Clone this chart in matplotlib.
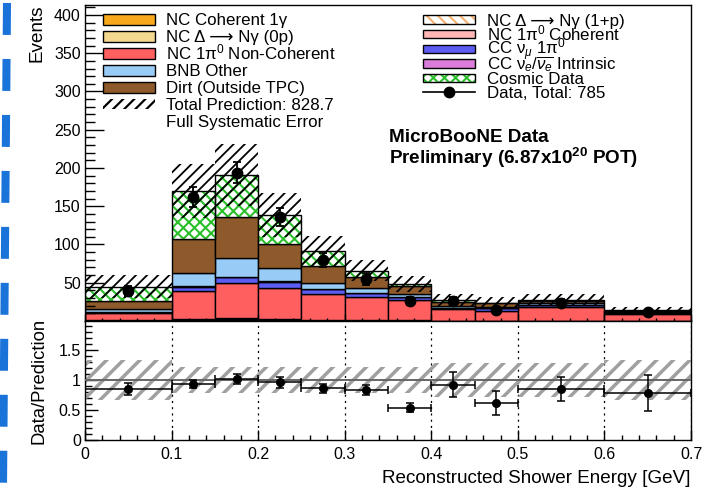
import numpy as np
import matplotlib
matplotlib.use("Agg")
import matplotlib.pyplot as plt
from matplotlib.patches import Rectangle
from matplotlib.lines import Line2D
from matplotlib.ticker import MultipleLocator

plt.rcParams['font.family'] = ['Liberation Sans', 'DejaVu Sans']
plt.rcParams['mathtext.fontset'] = 'custom'
plt.rcParams['mathtext.rm'] = 'Liberation Sans'
plt.rcParams['mathtext.it'] = 'Liberation Sans:italic'
plt.rcParams['mathtext.bf'] = 'Liberation Sans:bold'
plt.rcParams['lines.scale_dashes'] = False

# ---------------- data ----------------
bin_edges = [0.0, 0.1, 0.15, 0.2, 0.25, 0.3, 0.35, 0.4, 0.45, 0.5, 0.6, 0.7]

nc_coh_1g     = [0.1, 0.3, 0.3, 0.2, 0.1, 0.1, 0.1, 0.05, 0.05, 0.05, 0.02]
nc_delta_0p   = [0.3, 0.8, 0.9, 0.7, 0.5, 0.4, 0.3, 0.2, 0.2, 0.2, 0.1]
nc_delta_1p   = [0.3, 0.8, 1.0, 0.8, 0.6, 0.4, 0.3, 0.2, 0.2, 0.2, 0.1]
nc_pi0_coh    = [0.2, 0.5, 1.5, 1.5, 0.6, 0.3, 0.2, 0.1, 0.1, 0.1, 0.05]
nc_pi0_noncoh = [9.9, 37.2, 45.5, 40.3, 33.0, 30.5, 26.5, 15.1, 12.9, 17.3, 8.8]
cc_numu_pi0   = [1.2, 5.2, 7.8, 7.8, 6.6, 4.5, 3.4, 1.5, 3.0, 2.8, 1.5]
cc_nue        = [0.2, 0.5, 0.6, 0.5, 0.4, 0.3, 0.3, 0.2, 0.2, 0.3, 0.1]
bnb_other     = [3.3, 17.7, 24.2, 17.8, 8.2, 6.0, 4.2, 2.4, 1.5, 2.0, 1.5]
dirt          = [11.0, 43.6, 54.2, 30.9, 21.8, 15.0, 11.0, 4.5, 5.0, 3.5, 1.5]
cosmic        = [18.5, 63.4, 55.0, 37.9, 20.0, 8.0, 1.5, 3.5, 1.0, 1.5, 0.5]

data_counts = [39, 162, 194, 136, 80, 55, 26.5, 26, 15, 24, 11.3]
data_err    = [6.2, 12.7, 13.9, 11.7, 8.9, 7.4, 5.1, 5.1, 3.9, 4.9, 3.4]

ratio_vals = [0.85, 0.93, 1.01, 0.96, 0.86, 0.83, 0.54, 0.92, 0.62, 0.85, 0.78]
ratio_err  = [0.10, 0.07, 0.08, 0.09, 0.08, 0.08, 0.07, 0.21, 0.20, 0.20, 0.30]
sys_frac   = [0.33, 0.21, 0.21, 0.21, 0.21, 0.21, 0.22, 0.28, 0.28, 0.28, 0.33]

total_pred_label = "Total Prediction: 828.7"
data_total_label = "Data, Total: 785"

# ---------------- figure ----------------
W, H = 712, 488
fig = plt.figure(figsize=(W / 100, H / 100), dpi=100)

def fx(px):
    return px / W

def fy(py):
    return 1 - py / H

ax = fig.add_axes([fx(85), fy(321), fx(691) - fx(85), fy(5) - fy(321)])
axr = fig.add_axes([fx(85), fy(440), fx(691) - fx(85), fy(321) - fy(440)], sharex=ax)

edges = np.array(bin_edges)
lefts = edges[:-1]
widths = np.diff(edges)
centers = lefts + widths / 2

components = [
    (nc_coh_1g, '#f7a81b', None),
    (nc_delta_0p, '#f5d88f', None),
    (nc_delta_1p, '#f5b070', '\\\\\\'),
    (nc_pi0_coh, '#ffb6b6', None),
    (nc_pi0_noncoh, '#ff5f5f', None),
    (cc_numu_pi0, '#5c5cf3', None),
    (cc_nue, '#dc7ddc', None),
    (bnb_other, '#99cbf7', None),
    (dirt, '#8e5a2b', None),
    (cosmic, '#2bbf2b', 'xxx'),
]

def hatched_bar(axis, x, h, w, bottom, color, hatch, hlw, face='white', z=None):
    kw = dict(width=w, bottom=bottom, align='edge', facecolor=face,
              edgecolor=color, hatch=hatch, linewidth=0)
    if z is not None:
        kw['zorder'] = z
    try:
        axis.bar(x, h, hatch_linewidth=hlw, **kw)
    except Exception:
        plt.rcParams['hatch.linewidth'] = hlw
        axis.bar(x, h, **kw)

cum = np.zeros(len(lefts))
for vals, col, hatch in components:
    v = np.array(vals, dtype=float)
    if hatch is None:
        ax.bar(lefts, v, width=widths, bottom=cum, align='edge', color=col,
               edgecolor='black', linewidth=1.0)
    else:
        hatched_bar(ax, lefts, v, widths, cum, col, hatch, 1.5)
        ax.bar(lefts, v, width=widths, bottom=cum, align='edge', fill=False,
               edgecolor='black', linewidth=1.0)
    cum = cum + v
total = cum

# systematic band on top
err = total * np.array(sys_frac)
hatched_bar(ax, lefts, 2 * err, widths, total - err, 'black', '///', 1.3, face='none', z=5)

# data points
ax.errorbar(centers, data_counts, yerr=data_err, fmt='o', color='black',
            ms=7.5, capsize=2.8, elinewidth=1.3, capthick=1.3, zorder=10)

ax.set_xlim(0, 0.7)
ax.set_ylim(0, 413)
ax.set_yticks(np.arange(50, 401, 50))
ax.yaxis.set_minor_locator(MultipleLocator(10))
ax.xaxis.set_major_locator(MultipleLocator(0.1))
ax.xaxis.set_minor_locator(MultipleLocator(0.02))
ax.tick_params(axis='y', which='major', direction='in', length=14, width=1, labelsize=11.5, pad=3)
ax.tick_params(axis='y', which='minor', direction='in', length=7, width=1)
ax.tick_params(axis='x', which='major', direction='in', length=5, width=1, labelbottom=False)
ax.tick_params(axis='x', which='minor', direction='in', length=2.5, width=1)
ax.set_ylabel('Events', fontsize=13.6, loc='top', labelpad=6)

# ---------------- legend (drawn inside axes) ----------------
def ax_x(px):
    return (px - 85) / 606

def ax_y(py):
    return (321 - py) / 316

ax.text(ax_x(389), ax_y(129), 'MicroBooNE Data\nPreliminary (6.87x10$^{\\mathbf{20}}$ POT)',
        transform=ax.transAxes, fontsize=13.6, fontweight='bold', va='top',
        ha='left', linespacing=1.0, zorder=22)

leg_fs = 12.2

def leg_box(x0, x1, yc, h, face, hatch=None, edge='black', hcol=None, hlw=1.5, border=True):
    xy = (ax_x(x0), ax_y(yc + h / 2))
    wd = ax_x(x1) - ax_x(x0)
    ht = h / 316
    if hatch is None:
        ax.add_patch(Rectangle(xy, wd, ht, transform=ax.transAxes, facecolor=face,
                               edgecolor=edge, lw=1.0, zorder=20))
    else:
        kw = dict(transform=ax.transAxes, facecolor=face, edgecolor=hcol, lw=0,
                  hatch=hatch, zorder=20)
        try:
            r = Rectangle(xy, wd, ht, hatch_linewidth=hlw, **kw)
        except Exception:
            r = Rectangle(xy, wd, ht, **kw)
        ax.add_patch(r)
        if border:
            ax.add_patch(Rectangle(xy, wd, ht, transform=ax.transAxes, fill=False,
                                   edgecolor='black', lw=1.0, zorder=21))

def leg_text(x, yc, s):
    ax.text(ax_x(x), ax_y(yc + 6.0), s, transform=ax.transAxes, fontsize=leg_fs,
            va='baseline', ha='left', zorder=22)

left_entries = [
    ('NC Coherent 1γ', components[0][1]),
    ('NC Δ ⟶ Nγ (0p)', components[1][1]),
    ('NC 1π$^0$ Non-Coherent', components[4][1]),
    ('BNB Other', components[7][1]),
    ('Dirt (Outside TPC)', components[8][1]),
]
left_rows = [19.5, 36.2, 53.2, 70.2, 87.2, 104.0, 120.6]
for (lab, col), yc in zip(left_entries, left_rows):
    leg_box(103, 155, yc, 11, col)
    leg_text(166, yc, lab)
leg_box(103, 155, left_rows[5], 9, 'none', hatch='///', hcol='black', hlw=1.6, border=False)
leg_text(166, left_rows[5], total_pred_label)
leg_text(166, left_rows[6], 'Full Systematic Error')

right_rows = [19.7, 34.2, 48.8, 63.4, 78.0, 92.4]
right_entries = [
    ('NC Δ ⟶ Nγ (1+p)', components[2][1], '\\\\\\'),
    ('NC 1π$^0$ Coherent', components[3][1], None),
    ('CC ν$_\\mu$ 1π$^0$', components[5][1], None),
    ('CC ν$_e$/$\\overline{\\nu_e}$ Intrinsic', components[6][1], None),
    ('Cosmic Data', components[9][1], 'xxx'),
]
for (lab, col, hatch), yc in zip(right_entries, right_rows):
    if hatch is None:
        leg_box(423, 475, yc, 8.5, col)
    else:
        leg_box(423, 475, yc, 8.5, 'white', hatch=hatch, hcol=col, hlw=1.5)
    leg_text(487, yc, lab)
ax.add_line(Line2D([ax_x(423), ax_x(475)], [ax_y(right_rows[5])] * 2, transform=ax.transAxes,
                   color='black', lw=1.2, zorder=20))
ax.plot([ax_x(449)], [ax_y(right_rows[5])], 'o', color='black', ms=7.5,
        transform=ax.transAxes, zorder=21)
leg_text(487, right_rows[5], data_total_label)

# ---------------- ratio panel ----------------
sf = np.array(sys_frac)
hatched_bar(axr, lefts, 2 * sf, widths, 1 - sf, '#a0a0a0', '//', 2.5, face='none', z=2)
axr.axhline(1.0, color='#666666', lw=1.4, zorder=3)
axr.errorbar(centers, ratio_vals, xerr=widths / 2, yerr=ratio_err, fmt='o', color='black',
             ms=5.5, capsize=3, elinewidth=1.1, capthick=1.1, zorder=10)
axr.grid(axis='x', which='major', linestyle=(0, (1.5, 3)), color='black', lw=0.9)
axr.set_axisbelow(True)
axr.set_ylim(0, 1.98)
axr.set_yticks([0, 0.5, 1, 1.5])
axr.set_yticklabels(['0', '0.5', '1', '1.5'])
axr.yaxis.set_minor_locator(MultipleLocator(0.1))
axr.set_xticks(np.arange(0, 0.71, 0.1))
axr.set_xticklabels(['0', '0.1', '0.2', '0.3', '0.4', '0.5', '0.6', '0.7'])
axr.xaxis.set_minor_locator(MultipleLocator(0.02))
axr.tick_params(axis='y', which='major', direction='in', length=9.4, width=1, labelsize=11.5, pad=3)
axr.tick_params(axis='y', which='minor', direction='in', length=5, width=1)
axr.tick_params(axis='x', which='major', direction='in', length=7, width=1, labelsize=11.5, pad=5)
axr.tick_params(axis='x', which='minor', direction='in', length=3.6, width=1)
axr.set_xlim(0, 0.7)
axr.set_ylabel('Data/Prediction', fontsize=13.3, labelpad=8)
axr.set_xlabel('Reconstructed Shower Energy [GeV]', fontsize=13.6, loc='right', labelpad=6)

for a in (ax, axr):
    for s in a.spines.values():
        s.set_linewidth(1.0)

# left-edge blue dashed marker (screen artifact in reference)
fig.add_artist(Line2D([fx(7), fx(3)], [fy(3), fy(486)], transform=fig.transFigure,
                      color='#1a73d9', lw=5.8, linestyle=(0, (23, 17.3)),
                      solid_capstyle='butt', dash_capstyle='butt'))

fig.savefig('out.png', dpi=100)
